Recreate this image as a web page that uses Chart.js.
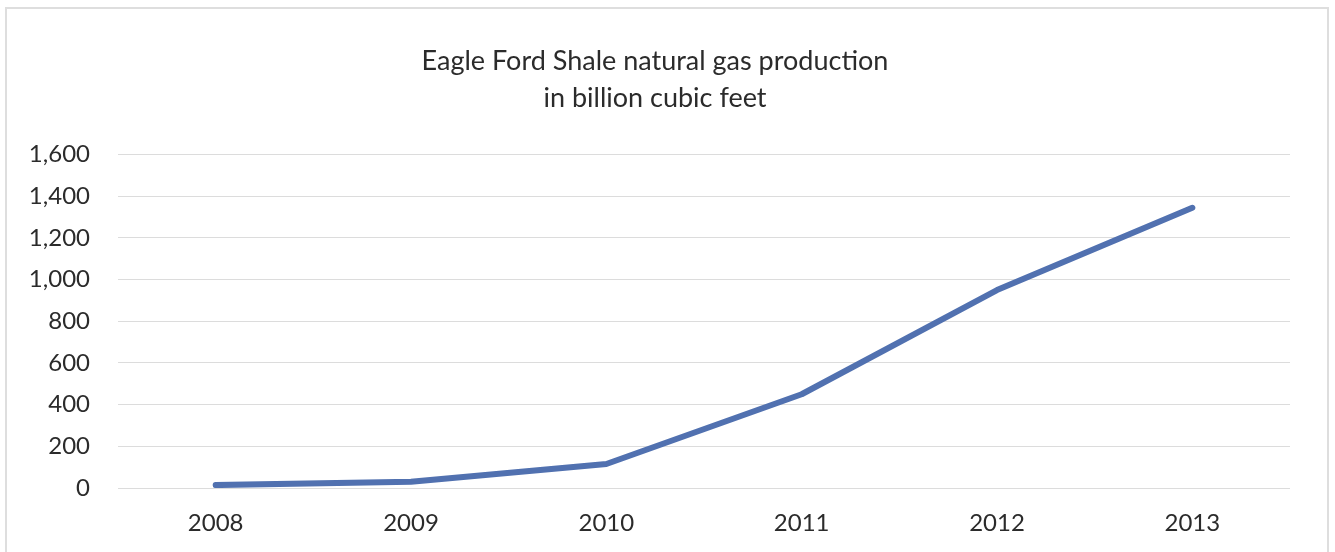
<!DOCTYPE html>
<html>
<head>
<meta charset="utf-8">
<script src="https://cdn.jsdelivr.net/npm/chart.js@4"></script>
<style>
  body { margin: 0; background: #fff; }
  #frame {
    position: absolute; left: 5px; top: 7px; width: 1324px; height: 560px;
    border: 2px solid #dedede; box-sizing: border-box;
  }
  #wrap { position: absolute; left: 0; top: 0; width: 1335px; height: 552px; }
</style>
</head>
<body>
<div id="frame"></div>
<div id="wrap"><canvas id="gasChart" width="1335" height="552"></canvas></div>
<script>
// Eagle Ford Shale natural gas production, billion cubic feet
const years = ['2008', '2009', '2010', '2011', '2012', '2013'];
const production = [14, 30, 115, 450, 950, 1345];
const titleLines = ['Eagle Ford Shale natural gas production', 'in billion cubic feet'];

const ctx = document.getElementById('gasChart').getContext('2d');

new Chart(ctx, {
  type: 'line',
  data: {
    labels: years,
    datasets: [{
      label: 'Production',
      data: production,
      borderColor: '#5171b0',
      borderWidth: 6,
      borderCapStyle: 'round',
      borderJoinStyle: 'round',
      pointRadius: 0,
      tension: 0,
      fill: false
    }]
  },
  options: {
    responsive: false,
    animation: false,
    layout: {
      padding: { left: 20, right: 45, top: 0, bottom: 0 }
    },
    plugins: {
      legend: { display: false },
      tooltip: { enabled: false },
      title: {
        display: true,
        text: titleLines,
        color: '#2b2b2b',
        font: { family: 'Lato', size: 27, weight: 'normal', lineHeight: 1.4 },
        padding: { top: 42, bottom: 37 }
      }
    },
    scales: {
      x: {
        offset: true,
        afterFit: axis => { axis.height = 64; },
        grid: { display: false, drawTicks: false },
        border: { display: false },
        ticks: {
          color: '#2b2b2b',
          padding: 21,
          font: { family: 'Lato', size: 24 }
        }
      },
      y: {
        min: 0,
        max: 1600,
        afterFit: axis => { axis.width = 98; },
        grid: { color: '#dcdcdc', lineWidth: 1, drawTicks: false },
        border: { display: false },
        ticks: {
          stepSize: 200,
          color: '#2b2b2b',
          padding: 28,
          font: { family: 'Lato', size: 24 },
          callback: v => v.toLocaleString('en-US')
        }
      }
    }
  }
});
</script>
</body>
</html>
